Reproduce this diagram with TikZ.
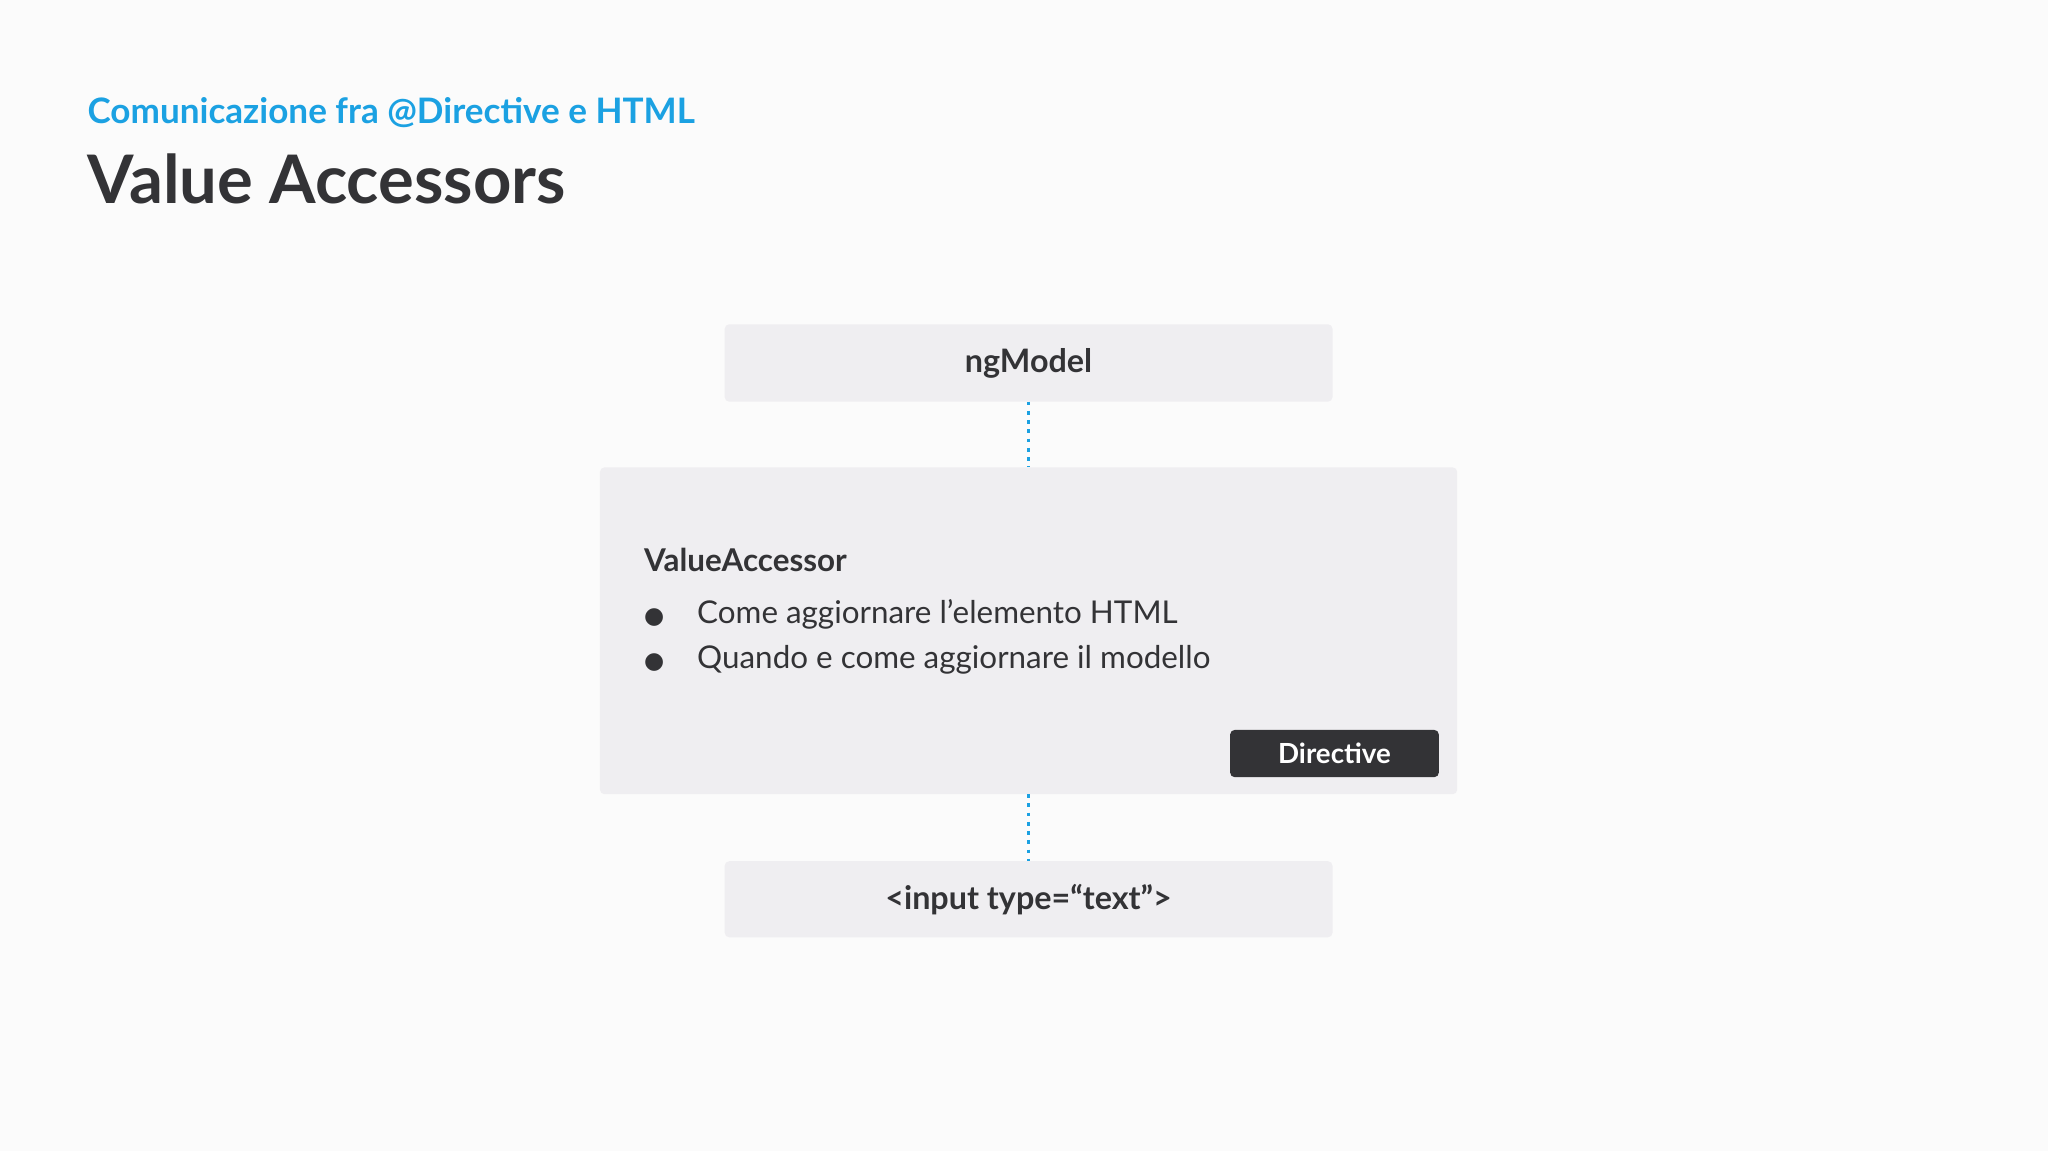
\documentclass[tikz,border=0pt]{standalone}
\usepackage{fontspec}
\setmainfont{Lato}
\newfontfamily\symf{DejaVu Sans}
\definecolor{boxc}{HTML}{EFEEF1}
\definecolor{bgc}{HTML}{FBFBFB}
\definecolor{txt}{HTML}{333336}
\definecolor{blu}{HTML}{1BA1E2}
\begin{document}
\begin{tikzpicture}[x=0.01cm,y=-0.01cm,
  box/.style={fill=boxc,draw=none,rounded corners=1pt},
  conn/.style={blu,line width=0.6pt,dash pattern=on 0.8pt off 1.2pt}]
\fill[bgc] (0,0) rectangle (1560,877);
\useasboundingbox (0,0) rectangle (1560,877);
\node[anchor=base west,text=blu,font=\fontsize{7.6}{9}\selectfont\bfseries,inner sep=0] (sub) at (66,94) {Comunicazione fra @Directive e HTML};
\node[anchor=base west,text=txt,font=\fontsize{14.5}{17}\selectfont\bfseries,inner sep=0] (ttl) at (66,155) {Value Accessors};
\path[box] (552,247) rectangle (1015,306);
\node[font=\fontsize{7}{8}\selectfont\bfseries,text=txt] (ng) at (783.5,276.5) {ngModel};
\coordinate (ngb) at (783.5,306);
\path[box] (457,356) rectangle (1110,605);
\coordinate (vat) at (783.5,356);
\coordinate (vab) at (783.5,605);
\node[anchor=base west,font=\fontsize{6.8}{8}\selectfont\bfseries,text=txt,inner sep=0] (va) at (490,435) {ValueAccessor};
\node[anchor=base west,font=\fontsize{6.8}{8}\selectfont,text=txt,inner sep=0] (b1) at (490,475) {{\symf\fontsize{5}{6}\selectfont ●}\hspace{0.25cm}Come aggiornare l’elemento HTML};
\node[anchor=base west,font=\fontsize{6.8}{8}\selectfont,text=txt,inner sep=0] (b2) at (490,509) {{\symf\fontsize{5}{6}\selectfont ●}\hspace{0.25cm}Quando e come aggiornare il modello};
\path[fill=txt,rounded corners=1pt] (937,556) rectangle (1096,592);
\node[font=\fontsize{6}{7}\selectfont\bfseries,text=white] (dir) at (1016.5,574) {Directive};
\path[box] (552,656) rectangle (1015,714);
\node[font=\fontsize{7}{8}\selectfont\bfseries,text=txt] (inp) at (783.5,685) {<input type=“text”>};
\coordinate (inpt) at (783.5,656);
\draw[conn] (ngb) -- (vat);
\draw[conn] (vab) -- (inpt);
\end{tikzpicture}
\end{document}
